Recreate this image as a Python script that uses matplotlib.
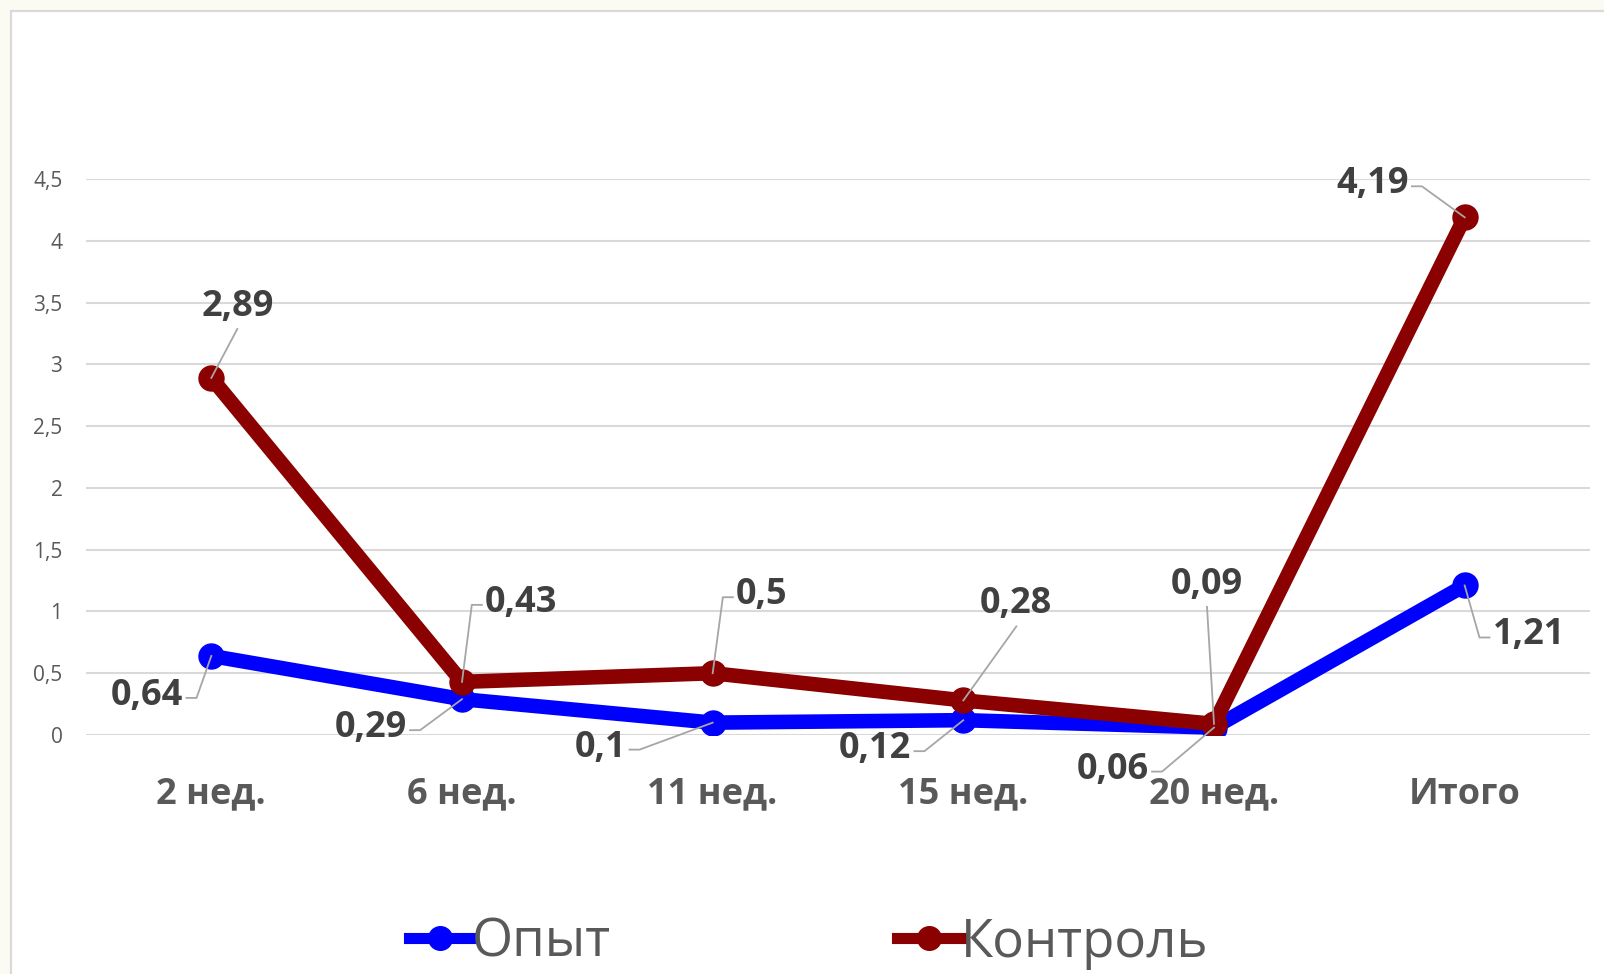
import matplotlib.pyplot as plt
from matplotlib.patches import Rectangle
from matplotlib.lines import Line2D
from matplotlib.transforms import IdentityTransform

# Данные
weeks = ["2 нед.", "6 нед.", "11 нед.", "15 нед.", "20 нед.", "Итого"]
opyt = [0.64, 0.29, 0.1, 0.12, 0.06, 1.21]
kontrol = [2.89, 0.43, 0.5, 0.28, 0.09, 4.19]

# смещения подписей (пиксели) относительно точки
opyt_off = [(-64, -40), (-91, -29), (-112, -25), (-88, -29), (-101, -42), (64, -50)]
kontrol_off = [(26, 71), (59, 79), (49, 78), (53, 96), (-7, 139), (-92, 33)]

BLUE = "#0000FF"
RED = "#8B0000"
TXT = "#404040"
GRAY = "#595959"
LEADER = "#A6A6A6"

plt.rcParams['font.family'] = ['Open Sans', 'DejaVu Sans']

fig = plt.figure(figsize=(16.04, 9.74), dpi=100)
fig.patch.set_facecolor("#FBFBF3")
fig.patches.append(Rectangle((11 / 1604, -0.05), 1.1, 0.05 + 1 - 11 / 974,
                             transform=fig.transFigure, facecolor="white",
                             edgecolor="#D9D9D9", linewidth=1.6, zorder=-10))

ax = fig.add_axes([86 / 1604, 1 - 735 / 974, 1504 / 1604, 556 / 974])
ax.set_facecolor("none")
x = list(range(len(weeks)))

ax.plot(x, opyt, color=BLUE, lw=10.5, marker='o', ms=18,
        solid_joinstyle='round', zorder=3)
ax.plot(x, kontrol, color=RED, lw=10.5, marker='o', ms=18,
        solid_joinstyle='round', zorder=4)

ax.set_xlim(-0.5, len(weeks) - 0.5)
ax.set_ylim(0, 4.5)
ax.set_yticks([i * 0.5 for i in range(10)])
ax.set_yticklabels([f"{i * 0.5:g}".replace(".", ",") for i in range(10)],
                   fontsize=15, color=GRAY)
ax.set_xticks(x)
ax.set_xticklabels(weeks, fontsize=26, fontweight='bold', color=GRAY)
ax.tick_params(axis='both', length=0)
ax.tick_params(axis='y', pad=17)
ax.tick_params(axis='x', pad=30)
ax.grid(axis='y', color="#D9D9D9", lw=1.5, zorder=0)
for s in ax.spines.values():
    s.set_visible(False)

labels = []


def add_labels(vals, offs):
    for xi, v, (dx, dy) in zip(x, vals, offs):
        t = ax.annotate(f"{v:g}".replace(".", ","), xy=(xi, v), xytext=(dx, dy),
                        textcoords='offset pixels', ha='center', va='center',
                        fontsize=26, fontweight='bold', color=TXT, zorder=6)
        labels.append((t, xi, v))


add_labels(opyt, opyt_off)
add_labels(kontrol, kontrol_off)

# выноски: горизонтальный хвостик сбоку подписи или линия от нижнего края
fig.canvas.draw()
for t, xi, v in labels:
    bb = t.get_window_extent()
    px, py = ax.transData.transform((xi, v))
    cy = (bb.y0 + bb.y1) / 2 - 2
    if bb.x0 - 20 > px:
        xs, ys = [bb.x0 - 3, bb.x0 - 13, px], [cy, cy, py]
    elif bb.x1 + 20 < px:
        xs, ys = [bb.x1 + 3, bb.x1 + 13, px], [cy, cy, py]
    else:
        below = py < bb.y0
        ey = bb.y0 + 2 if below else bb.y1 - 2
        xs, ys = [(bb.x0 + bb.x1) / 2, px], [ey - 6 if below else ey + 6, py]
    ax.add_line(Line2D(xs, ys, transform=IdentityTransform(), color=LEADER,
                       lw=1.3, zorder=5, clip_on=False))

handles = [Line2D([], [], color=BLUE, lw=8, marker='o', ms=17),
           Line2D([], [], color=RED, lw=8, marker='o', ms=17)]
fig.legend(handles, ["Опыт", "Контроль"], loc='center',
           bbox_to_anchor=(0.504, 0.032), ncol=2, frameon=False,
           fontsize=38, labelcolor=GRAY, handlelength=1.2, handletextpad=0.0,
           columnspacing=5.42)

plt.savefig("out.png", dpi=100, facecolor=fig.get_facecolor())
